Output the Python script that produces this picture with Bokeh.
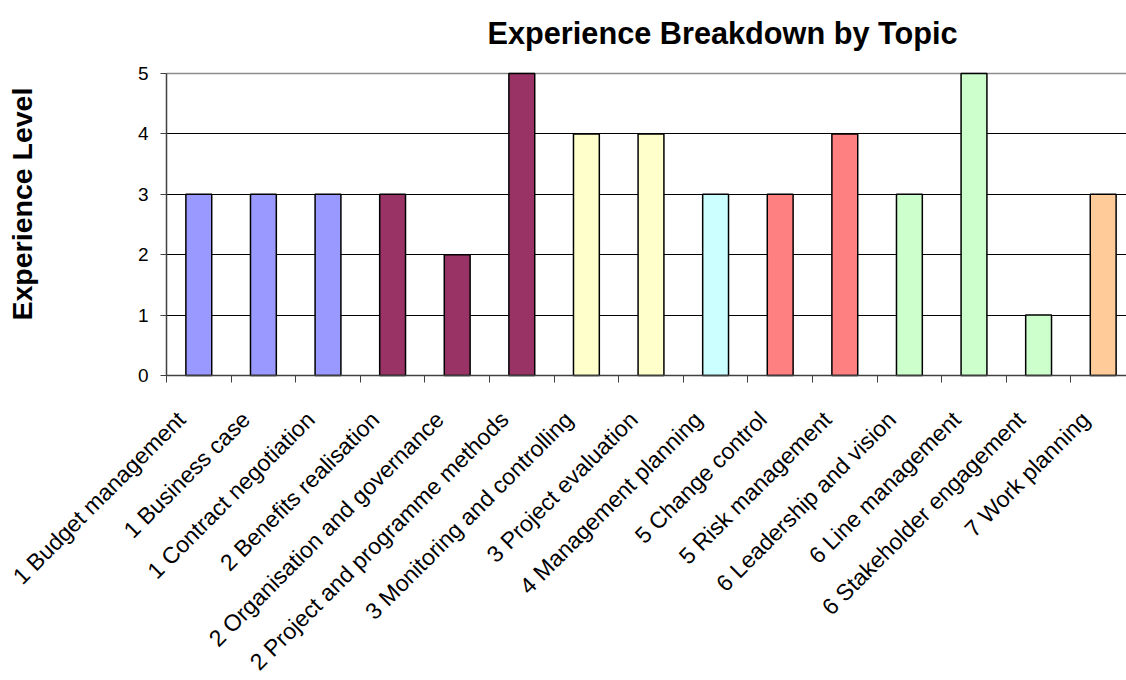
import math
from bokeh.plotting import figure
from bokeh.models import (ColumnDataSource, FixedTicker, Range1d, Label, Grid,
                          CustomJSTickFormatter)
from bokeh.embed import file_html
from bokeh.resources import INLINE

# ---- data ----
topics = [
    "1 Budget management",
    "1 Business case",
    "1 Contract negotiation",
    "2 Benefits realisation",
    "2 Organisation and governance",
    "2 Project and programme methods",
    "3 Monitoring and controlling",
    "3 Project evaluation",
    "4 Management planning",
    "5 Change control",
    "5 Risk management",
    "6 Leadership and vision",
    "6 Line management",
    "6 Stakeholder engagement",
    "7 Work planning",
]
levels = [3, 3, 3, 3, 2, 5, 4, 4, 3, 3, 4, 3, 5, 1, 3]
colors = ["#9999FF", "#9999FF", "#9999FF",
          "#993366", "#993366", "#993366",
          "#FFFFCC", "#FFFFCC",
          "#CCFFFF",
          "#FF8080", "#FF8080",
          "#CCFFCC", "#CCFFCC", "#CCFFCC",
          "#FFCC99"]
y_ticks = [0, 1, 2, 3, 4, 5]

title_text = "Experience Breakdown by Topic"
y_label = "Experience Level"

# ---- layout constants (pixels) ----
FONT = "Liberation Sans"
W, H = 1126, 680
PLOT_LEFT, PLOT_TOP, ZERO_Y = 166, 73, 375
CAT_PX = 64.6                                   # width of one category
UNIT_PX = (ZERO_Y - PLOT_TOP) / y_ticks[-1]     # pixels per experience level
LABEL_SHIFT = -0.27                             # tick-label anchor shift (category units)


def dx(px):
    return -0.5 + (px - PLOT_LEFT) / CAT_PX


def dy(py):
    return (ZERO_Y - py) / UNIT_PX


n = len(topics)
xs = list(range(n))
src = ColumnDataSource(dict(x=xs, top=levels, color=colors))

x_end = dx(W)
p = figure(width=W, height=H, output_backend="svg", toolbar_location=None,
           x_range=Range1d(dx(0), x_end), y_range=Range1d(dy(H), dy(0)),
           min_border_left=0, min_border_right=0, min_border_top=0,
           min_border_bottom=0, background_fill_color="white",
           border_fill_color="white")
p.title = None
p.outline_line_color = None

p.vbar(x="x", top="top", bottom=0, width=0.4, fill_color="color",
       line_color="black", line_width=1.5, source=src)

# grid lines (plot area only)
p.xgrid.visible = False
g = p.ygrid[0]
g.ticker = FixedTicker(ticks=y_ticks[1:-1])
g.cross_bounds = (-0.5, x_end)
g.grid_line_color = "black"
g.grid_line_width = 1
p.add_layout(Grid(dimension=1, ticker=FixedTicker(ticks=[y_ticks[-1]]),
                  cross_bounds=(-0.5, x_end), grid_line_color="#8c8c8c",
                  grid_line_width=1.5))

# y axis at the left edge of the plot area
ya = p.yaxis[0]
ya.fixed_location = -0.5
ya.ticker = FixedTicker(ticks=y_ticks)
ya.bounds = (y_ticks[0], y_ticks[-1])
ya.axis_line_color = "#404040"
ya.axis_line_width = 1.5
ya.major_tick_line_color = "#404040"
ya.major_tick_out = 6
ya.major_tick_in = 0
ya.minor_tick_line_color = None
ya.major_label_standoff = 12
ya.major_label_text_font = FONT
ya.major_label_text_font_size = "19px"
ya.major_label_text_color = "black"

# x axis along y = 0
xa = p.xaxis[0]
xa.fixed_location = 0
xa.bounds = (-0.5, x_end)
xa.ticker = FixedTicker(ticks=[i + LABEL_SHIFT for i in xs],
                        minor_ticks=[i - 0.5 for i in xs])
xa.formatter = CustomJSTickFormatter(args=dict(labels=topics, shift=LABEL_SHIFT),
                                     code="return labels[Math.round(tick - shift)]")
xa.axis_line_color = "#404040"
xa.axis_line_width = 1.5
xa.major_tick_line_color = None
xa.major_tick_out = 0
xa.major_tick_in = 0
xa.minor_tick_line_color = "#404040"
xa.minor_tick_out = 7
xa.minor_tick_in = 0
xa.major_label_orientation = math.pi / 4
xa.major_label_standoff = 33
xa.major_label_text_font = FONT
xa.major_label_text_font_size = "23px"
xa.major_label_text_color = "black"

# chart title
p.add_layout(Label(x=dx(487), y=dy(32.5), text=title_text, text_align="left",
                   text_baseline="alphabetic", text_font=FONT,
                   text_font_style="bold", text_font_size="30.7px", text_color="black"))

# y axis title
p.add_layout(Label(x=dx(21.5), y=dy(320), text=y_label, angle=math.pi / 2,
                   text_align="left", text_baseline="alphabetic", text_font=FONT,
                   text_font_style="bold", text_font_size="28.5px", text_color="black"))

open("out.html", "w").write(file_html(p, INLINE))
